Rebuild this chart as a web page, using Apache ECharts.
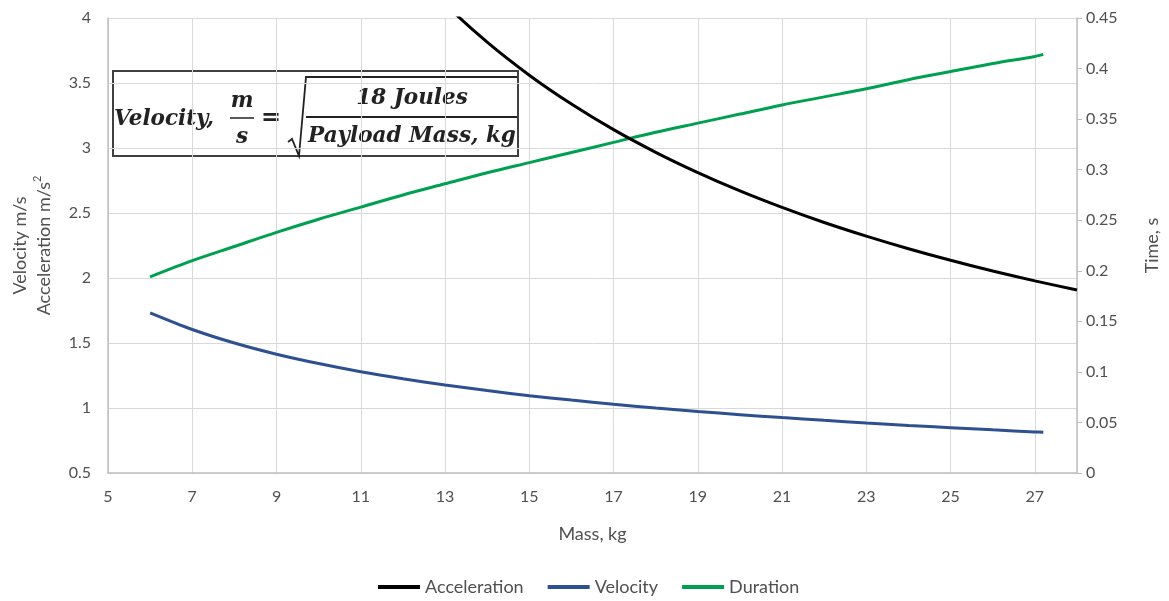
<!DOCTYPE html>
<html>
<head>
<meta charset="utf-8">
<title>Mass vs Velocity, Acceleration and Duration</title>
<script src="https://cdn.jsdelivr.net/npm/echarts@6/dist/echarts.min.js"></script>
<style>
  html, body { margin: 0; padding: 0; background: #ffffff; }
  #chart { width: 1169px; height: 601px; }
</style>
</head>
<body>
<div id="chart"></div>
<script>
// Payload mass (kg) samples for velocity and duration
const massSamples = [6, 7, 8, 9, 10, 11, 12, 13, 14, 15, 16, 17, 18, 19, 20, 21, 22, 23, 24, 25, 26, 27, 27.2];
// Velocity, m/s
const velocity = [1.732, 1.604, 1.500, 1.414, 1.342, 1.279, 1.225, 1.177, 1.134, 1.095, 1.061, 1.029, 1.000,
                  0.973, 0.949, 0.926, 0.905, 0.885, 0.866, 0.849, 0.832, 0.816, 0.813];
// Duration, s (right axis)
const duration = [0.194, 0.210, 0.224, 0.238, 0.251, 0.263, 0.275, 0.286, 0.297, 0.307, 0.317, 0.327, 0.337,
                  0.346, 0.355, 0.364, 0.372, 0.380, 0.389, 0.397, 0.405, 0.412, 0.414];
// Acceleration, m/s^2 (runs off the top of the axis below ~13 kg)
const accelMass = [12, 13, 14, 15, 16, 17, 18, 19, 20, 21, 22, 23, 24, 25, 26, 27, 28];
const acceleration = [4.450, 4.108, 3.814, 3.560, 3.338, 3.141, 2.967, 2.811, 2.670, 2.543, 2.427, 2.322, 2.225, 2.136, 2.054, 1.978, 1.907];

const seriesNames = ['Acceleration', 'Velocity', 'Duration'];
const seriesColors = ['#000000', '#2F5090', '#00A050'];

const pairs = (xs, ys) => xs.map((x, i) => [x, ys[i]]);

const fontStack = 'Lato, "Liberation Sans", sans-serif';
const tickFont = { color: '#505050', fontSize: 16, fontFamily: fontStack };
const titleFont = { color: '#505050', fontSize: 18, fontFamily: fontStack };
const gridColor = '#d9d9d9';
const axisColor = '#bfbfbf';
const mathFont = 'italic bold 21.5px "DejaVu Serif", serif';
const ink = '#222222';

const chart = echarts.init(document.getElementById('chart'), null, { renderer: 'canvas' });

chart.setOption({
  animation: false,
  backgroundColor: '#ffffff',
  grid: { left: 108, right: 88, top: 18, bottom: 128, containLabel: false },
  legend: {
    data: seriesNames,
    bottom: 0,
    left: 373,
    icon: 'rect',
    itemWidth: 42,
    itemHeight: 4,
    itemGap: 24,
    textStyle: titleFont
  },
  xAxis: {
    type: 'value',
    min: 5,
    max: 28,
    interval: 2,
    name: 'Mass, kg',
    nameLocation: 'middle',
    nameGap: 52,
    nameTextStyle: titleFont,
    axisLine: { show: true, lineStyle: { color: axisColor, width: 1.5 } },
    axisTick: { show: false },
    axisLabel: Object.assign({ margin: 16, showMaxLabel: false }, tickFont),
    splitLine: { show: true, lineStyle: { color: gridColor, width: 1 } }
  },
  yAxis: [
    {
      type: 'value',
      min: 0.5,
      max: 4,
      interval: 0.5,
      position: 'left',
      name: 'Velocity m/s\nAcceleration m/s{sup|2}',
      nameLocation: 'middle',
      nameGap: 52,
      nameRotate: 90,
      nameTextStyle: Object.assign({
        lineHeight: 24,
        rich: { sup: { fontSize: 11, verticalAlign: 'top', lineHeight: 12, color: '#505050', padding: [0, 0, 7, 0] } }
      }, titleFont),
      axisLine: { show: true, lineStyle: { color: axisColor, width: 1.5 } },
      axisTick: { show: false },
      axisLabel: Object.assign({ margin: 17 }, tickFont),
      splitLine: { show: true, lineStyle: { color: gridColor, width: 1 } }
    },
    {
      type: 'value',
      min: 0,
      max: 0.45,
      interval: 0.05,
      position: 'right',
      name: 'Time, s',
      nameLocation: 'middle',
      nameGap: 66,
      nameRotate: 90,
      nameTextStyle: titleFont,
      axisLine: { show: true, lineStyle: { color: axisColor, width: 1.5 } },
      axisTick: { show: true, inside: false, length: 5, lineStyle: { color: axisColor } },
      axisLabel: Object.assign({ margin: 9 }, tickFont),
      splitLine: { show: false }
    }
  ],
  series: [
    {
      name: seriesNames[0], type: 'line', yAxisIndex: 0, color: seriesColors[0],
      data: pairs(accelMass, acceleration), smooth: 0.3, showSymbol: false, clip: true,
      lineStyle: { width: 3 }, z: 5
    },
    {
      name: seriesNames[1], type: 'line', yAxisIndex: 0, color: seriesColors[1],
      data: pairs(massSamples, velocity), smooth: 0.3, showSymbol: false,
      lineStyle: { width: 3 }, z: 4
    },
    {
      name: seriesNames[2], type: 'line', yAxisIndex: 1, color: seriesColors[2],
      data: pairs(massSamples, duration), smooth: 0.3, showSymbol: false,
      lineStyle: { width: 3 }, z: 4
    }
  ],
  graphic: [
    {
      type: 'group',
      z: 100,
      children: [
        { type: 'rect', shape: { x: 113, y: 71, width: 405, height: 85 },
          style: { fill: '#ffffff', stroke: '#404040', lineWidth: 2 } },
        { type: 'text', x: 114, y: 119,
          style: { text: 'Velocity,', font: mathFont, fill: ink, textVerticalAlign: 'middle', textAlign: 'left' } },
        { type: 'text', x: 242, y: 101,
          style: { text: 'm', font: mathFont, fill: ink, textVerticalAlign: 'middle', textAlign: 'center' } },
        { type: 'line', shape: { x1: 230, y1: 118, x2: 254, y2: 118 }, style: { stroke: ink, lineWidth: 1.5 } },
        { type: 'text', x: 242, y: 137,
          style: { text: 's', font: mathFont, fill: ink, textVerticalAlign: 'middle', textAlign: 'center' } },
        { type: 'text', x: 271, y: 119,
          style: { text: '=', font: 'bold 24px "DejaVu Serif", serif', fill: ink, textVerticalAlign: 'middle', textAlign: 'center' } },
        { type: 'polyline', shape: { points: [[288, 142], [292, 139], [299, 156], [306, 77], [517, 77]] },
          style: { stroke: ink, lineWidth: 1.8, fill: null } },
        { type: 'text', x: 412, y: 98,
          style: { text: '18 Joules', font: mathFont, fill: ink, textVerticalAlign: 'middle', textAlign: 'center' } },
        { type: 'line', shape: { x1: 306, y1: 117, x2: 517, y2: 117 }, style: { stroke: ink, lineWidth: 2 } },
        { type: 'text', x: 412, y: 136,
          style: { text: 'Payload Mass, kg', font: mathFont, fill: ink, textVerticalAlign: 'middle', textAlign: 'center' } }
      ]
    }
  ]
});
</script>
</body>
</html>
